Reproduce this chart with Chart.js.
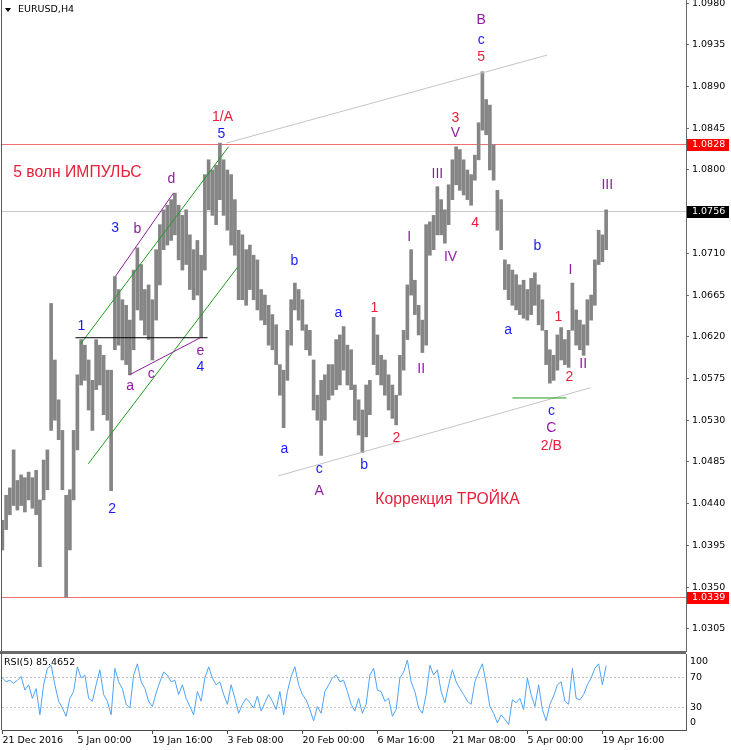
<!DOCTYPE html>
<html>
<head>
<meta charset="utf-8">
<script src="https://cdn.jsdelivr.net/npm/chart.js@4.4.1/dist/chart.umd.min.js"></script>
<style>
html, body { margin: 0; padding: 0; background: #fff; }
#wrap { position: relative; width: 731px; height: 750px; overflow: hidden; }
#main { position: absolute; left: 0; top: 0; }
#rsi { position: absolute; left: 0; top: 652px; }
</style>
</head>
<body>
<div id="wrap">
  <canvas id="main" width="731" height="652"></canvas>
  <canvas id="rsi" width="731" height="98"></canvas>
</div>
<script>
// EURUSD H4 (one entry every ~4 bars)
const highs = [
  1.0422,1.0449,1.0457,1.0498,1.0465,1.0471,1.0468,1.0474,1.0468,1.0476,
  1.0444,1.0487,1.0498,1.0656,1.0595,1.0552,1.0519,1.0449,1.0455,1.0519,
  1.0579,1.0617,1.0611,1.0595,1.0573,1.0617,1.0611,1.0600,1.0584,1.0584,
  1.0685,1.0671,1.0660,1.0654,1.0638,1.0692,1.0716,1.0698,1.0671,1.0676,
  1.0660,1.0714,1.0741,1.0757,1.0762,1.0768,1.0775,1.0762,1.0751,1.0757,
  1.0730,1.0714,1.0724,1.0708,1.0795,1.0811,1.0800,1.0805,1.0829,1.0811,
  1.0800,1.0795,1.0768,1.0735,1.0730,1.0714,1.0719,1.0708,1.0703,1.0671,
  1.0665,1.0654,1.0644,1.0633,1.0590,1.0584,1.0627,1.0660,1.0678,1.0671,
  1.0660,1.0633,1.0627,1.0595,1.0557,1.0573,1.0579,1.0590,1.0590,1.0617,
  1.0622,1.0631,1.0611,1.0606,1.0568,1.0552,1.0541,1.0568,1.0573,1.0641,
  1.0622,1.0600,1.0595,1.0579,1.0568,1.0557,1.0600,1.0627,1.0676,1.0714,
  1.0681,1.0654,1.0638,1.0741,1.0744,1.0751,1.0782,1.0768,1.0757,1.0784,
  1.0811,1.0825,1.0822,1.0811,1.0800,1.0795,1.0816,1.0851,1.0906,1.0876,
  1.0870,1.0827,1.0778,1.0768,1.0703,1.0698,1.0692,1.0687,1.0676,1.0681,
  1.0671,1.0683,1.0689,1.0676,1.0660,1.0627,1.0606,1.0600,1.0622,1.0630,
  1.0617,1.0627,1.0678,1.0649,1.0638,1.0633,1.0660,1.0665,1.0703,1.0735,
  1.0730,1.0757
];
const lows = [
  1.0390,1.0412,1.0428,1.0438,1.0433,1.0438,1.0431,1.0444,1.0435,1.0428,
  1.0372,1.0444,1.0455,1.0519,1.0530,1.0509,1.0455,1.0339,1.0390,1.0444,
  1.0498,1.0568,1.0573,1.0541,1.0519,1.0563,1.0568,1.0536,1.0530,1.0454,
  1.0606,1.0611,1.0595,1.0590,1.0579,1.0606,1.0649,1.0638,1.0622,1.0617,
  1.0595,1.0638,1.0676,1.0714,1.0719,1.0724,1.0730,1.0703,1.0692,1.0698,
  1.0671,1.0660,1.0665,1.0619,1.0692,1.0757,1.0751,1.0741,1.0768,1.0751,
  1.0735,1.0719,1.0708,1.0660,1.0660,1.0654,1.0671,1.0660,1.0649,1.0638,
  1.0633,1.0611,1.0606,1.0590,1.0557,1.0522,1.0573,1.0611,1.0649,1.0638,
  1.0627,1.0606,1.0600,1.0541,1.0530,1.0492,1.0530,1.0552,1.0557,1.0563,
  1.0568,1.0584,1.0568,1.0563,1.0530,1.0514,1.0495,1.0512,1.0536,1.0590,
  1.0579,1.0568,1.0557,1.0541,1.0532,1.0525,1.0557,1.0584,1.0617,1.0665,
  1.0644,1.0622,1.0603,1.0611,1.0708,1.0714,1.0730,1.0730,1.0721,1.0741,
  1.0768,1.0784,1.0778,1.0773,1.0768,1.0762,1.0789,1.0811,1.0843,1.0838,
  1.0800,1.0789,1.0735,1.0714,1.0671,1.0660,1.0654,1.0649,1.0644,1.0640,
  1.0638,1.0644,1.0654,1.0633,1.0627,1.0590,1.0570,1.0573,1.0584,1.0595,
  1.0590,1.0587,1.0627,1.0611,1.0606,1.0600,1.0611,1.0638,1.0654,1.0698,
  1.0701,1.0714
];
const rsi5 = [
  69,64,66,62,66,71,53,60,42,55,
  20,60,82,86,60,38,29,18,42,51,
  84,69,73,42,38,60,80,47,38,20,
  82,64,55,34,29,73,88,64,55,38,
  31,49,64,77,73,64,66,47,60,42,
  31,20,51,38,69,84,69,60,64,47,
  34,60,42,22,34,42,36,29,45,25,
  36,47,38,27,51,20,51,71,84,60,
  47,40,27,12,31,22,51,60,69,73,
  64,66,51,34,25,42,22,34,73,82,
  53,51,38,42,18,27,69,77,93,64,
  51,29,22,47,86,73,80,51,36,60,
  80,64,55,47,38,34,64,77,88,62,
  31,22,9,20,14,7,40,36,42,27,
  69,47,31,60,27,12,34,45,60,64,
  38,34,82,42,40,47,60,69,82,88,
  60,85.4652
];
const timeTickIdx = [0, 20, 40, 60, 80, 100, 120, 140, 160];
const timeLabels = ['21 Dec 2016', '5 Jan 00:00', '19 Jan 16:00', '3 Feb 08:00', '20 Feb 00:00',
  '6 Mar 16:00', '21 Mar 08:00', '5 Apr 00:00', '19 Apr 16:00'];
const priceTicks = [1.0305, 1.0350, 1.0395, 1.0440, 1.0485, 1.0530, 1.0575, 1.0620,
  1.0665, 1.0710, 1.0755, 1.0800, 1.0845, 1.0890, 1.0935, 1.0980];
const rsiTicks = [100, 70, 30, 0];
const rsiLevels = [70, 30];

// price levels with boxes on the axis
const priceLevels = [
  { v: 1.0828, line: '#ef7070', box: '#ff0000' },
  { v: 1.0756, line: '#c8c8c8', box: '#000000' },
  { v: 1.0339, line: '#ef7070', box: '#ff0000' }
];

// drawn objects: [bar1, price1, bar2, price2, colour]
const trendLines = [
  [59.7, 1.0829, 145.3, 1.0924, '#c4c4c4'],
  [73.6, 1.0470, 156.8, 1.0565, '#c4c4c4'],
  [20.8, 1.0612, 60.3, 1.0825, '#1f9a1f'],
  [22.9, 1.0483, 62.7, 1.0695, '#1f9a1f'],
  [19.5, 1.0619, 54.7, 1.0619, '#000000'],
  [30.1, 1.0685, 45.6, 1.0775, '#8e1e9e'],
  [33.9, 1.0579, 52.8, 1.0619, '#8e1e9e'],
  [136.0, 1.0554, 150.4, 1.0554, '#1f9a1f']
];

const RED = '#e8203a', BLUE = '#1a1aff', PURPLE = '#8e1e9e';
const waveMarks = [
  ['1/A', 58.7, 1.0857, RED], ['5', 58.4, 1.0839, BLUE],
  ['d', 45.1, 1.0790, PURPLE], ['b', 36.0, 1.0736, PURPLE], ['3', 30.1, 1.0737, BLUE],
  ['1', 21.1, 1.0632, BLUE], ['a', 34.1, 1.0567, PURPLE], ['c', 39.7, 1.0580, PURPLE],
  ['e', 52.8, 1.0604, PURPLE], ['4', 52.8, 1.0587, BLUE], ['2', 29.3, 1.0434, BLUE],
  ['b', 77.9, 1.0702, BLUE], ['a', 89.6, 1.0646, BLUE], ['1', 99.2, 1.0651, RED],
  ['a', 75.2, 1.0499, BLUE], ['c', 84.5, 1.0477, BLUE], ['b', 96.5, 1.0482, BLUE],
  ['A', 84.5, 1.0453, PURPLE], ['2', 105.1, 1.0511, RED],
  ['I', 108.5, 1.0727, PURPLE], ['II', 111.7, 1.0585, PURPLE], ['III', 116.0, 1.0796, PURPLE],
  ['IV', 119.5, 1.0706, PURPLE], ['3', 120.8, 1.0856, RED], ['V', 120.8, 1.0840, PURPLE],
  ['4', 126.1, 1.0743, RED], ['B', 127.7, 1.0962, PURPLE], ['c', 127.7, 1.0940, BLUE],
  ['5', 127.7, 1.0922, RED], ['b', 142.7, 1.0718, BLUE], ['a', 134.9, 1.0627, BLUE],
  ['I', 151.5, 1.0692, PURPLE], ['1', 148.3, 1.0641, RED], ['2', 151.2, 1.0576, RED],
  ['II', 154.9, 1.0591, PURPLE], ['c', 146.4, 1.0540, BLUE], ['C', 146.4, 1.0521, PURPLE],
  ['2/B', 146.4, 1.0502, RED], ['III', 161.3, 1.0784, PURPLE]
];
const captions = [
  ['5 волн ИМПУЛЬС', 2.9, 1.0797, 'left'],
  ['Коррекция ТРОЙКА', 118.7, 1.0444, 'center']
];

const X_MIN = -0.1, X_MAX = 182.3;
const axisFont = { family: 'DejaVu Sans', size: 9.5 };

const mainDecor = {
  id: 'mainDecor',
  beforeDatasetsDraw(chart) {
    const { ctx, chartArea: a, scales: { y } } = chart;
    ctx.save();
    ctx.lineWidth = 1;
    priceLevels.forEach(l => {
      const py = Math.round(y.getPixelForValue(l.v)) + 0.5;
      ctx.strokeStyle = l.line;
      ctx.beginPath(); ctx.moveTo(a.left, py); ctx.lineTo(a.right, py); ctx.stroke();
    });
    ctx.restore();
  },
  afterDatasetsDraw(chart) {
    const { ctx, scales: { x, y } } = chart;
    ctx.save();
    ctx.lineWidth = 1;
    trendLines.forEach(t => {
      ctx.strokeStyle = t[4];
      ctx.beginPath();
      ctx.moveTo(x.getPixelForValue(t[0]), y.getPixelForValue(t[1]));
      ctx.lineTo(x.getPixelForValue(t[2]), y.getPixelForValue(t[3]));
      ctx.stroke();
    });
    ctx.textBaseline = 'middle';
    ctx.textAlign = 'center';
    ctx.font = '14px "Liberation Sans"';
    waveMarks.forEach(m => {
      ctx.fillStyle = m[3];
      ctx.fillText(m[0], x.getPixelForValue(m[1]), y.getPixelForValue(m[2]));
    });
    ctx.font = '15.7px "Liberation Sans"';
    ctx.fillStyle = RED;
    captions.forEach(c => {
      ctx.textAlign = c[3];
      ctx.fillText(c[0], x.getPixelForValue(c[1]), y.getPixelForValue(c[2]));
    });
    ctx.restore();
  },
  afterDraw(chart) {
    const { ctx, chartArea: a, scales: { y } } = chart;
    ctx.save();
    // frame
    ctx.fillStyle = '#5a5a5a';
    ctx.fillRect(1, 0, 1, a.bottom);
    ctx.fillStyle = '#6a6a6a';
    ctx.fillRect(0, a.bottom, a.right, 1);
    // level boxes on the price axis
    ctx.font = '9.5px "DejaVu Sans"';
    ctx.textAlign = 'left';
    ctx.textBaseline = 'middle';
    priceLevels.forEach(l => {
      const py = Math.round(y.getPixelForValue(l.v));
      ctx.fillStyle = l.box;
      ctx.fillRect(a.right + 1, py - 5, 42, 12);
      ctx.fillStyle = '#fff';
      ctx.fillText(l.v.toFixed(4), a.right + 6, py + 1);
    });
    // symbol title
    ctx.fillStyle = '#000';
    ctx.beginPath(); ctx.moveTo(5, 8); ctx.lineTo(11, 8); ctx.lineTo(8, 12); ctx.closePath(); ctx.fill();
    ctx.fillText('EURUSD,H4', 18, 10);
    ctx.restore();
  }
};

const mainChart = new Chart(document.getElementById('main'), {
  type: 'bar',
  data: {
    datasets: [{
      data: highs.map((h, i) => ({ x: i, y: [lows[i], h] })),
      backgroundColor: '#858585',
      borderWidth: 0,
      barThickness: 3,
      grouped: false
    }]
  },
  options: {
    responsive: false,
    animation: false,
    devicePixelRatio: 1,
    layout: { padding: { left: 2, top: 0, right: 0, bottom: 1 } },
    plugins: { legend: { display: false }, tooltip: { enabled: false } },
    scales: {
      x: { type: 'linear', offset: false, min: X_MIN, max: X_MAX, display: false },
      y: {
        position: 'right',
        min: 1.0281,
        max: 1.09834,
        afterBuildTicks: s => { s.ticks = priceTicks.map(v => ({ value: v })); },
        afterFit: s => { s.width = 45; s.paddingTop = 0; s.paddingBottom = 0; },
        grid: { drawOnChartArea: false, tickLength: 3, color: '#6a6a6a' },
        border: { color: '#6a6a6a' },
        ticks: { padding: 3, color: '#000', font: axisFont, autoSkip: false,
          callback: v => v.toFixed(4) }
      }
    }
  },
  plugins: [mainDecor]
});

const rsiDecor = {
  id: 'rsiDecor',
  beforeDatasetsDraw(chart) {
    const { ctx, chartArea: a, scales: { y } } = chart;
    ctx.save();
    ctx.strokeStyle = '#c4c4c4';
    ctx.lineWidth = 1;
    ctx.setLineDash([2, 2]);
    rsiLevels.forEach(v => {
      const py = Math.round(y.getPixelForValue(v)) + 0.5;
      ctx.beginPath(); ctx.moveTo(a.left, py); ctx.lineTo(a.right, py); ctx.stroke();
    });
    ctx.restore();
  },
  afterDraw(chart) {
    const { ctx, chartArea: a, scales: { y } } = chart;
    ctx.save();
    ctx.fillStyle = '#6a6a6a';
    ctx.fillRect(0, 0, a.right, 2);
    ctx.fillStyle = '#5a5a5a';
    ctx.fillRect(1, 0, 1, a.bottom);
    ctx.font = '9.5px "DejaVu Sans"';
    ctx.textBaseline = 'middle';
    ctx.textAlign = 'left';
    ctx.fillStyle = '#000';
    ctx.fillText('RSI(5) ' + rsi5[rsi5.length - 1].toFixed(4), 4, 11);
    rsiTicks.forEach(v => {
      const py = Math.min(Math.max(y.getPixelForValue(v), a.top + 8), a.bottom - 7);
      ctx.fillText(String(v), a.right + 4, py);
    });
    ctx.restore();
  }
};

const rsiChart = new Chart(document.getElementById('rsi'), {
  type: 'line',
  data: {
    datasets: [{
      data: rsi5.map((v, i) => ({ x: i, y: v })),
      borderColor: '#4fa3f7',
      borderWidth: 1,
      pointRadius: 0,
      tension: 0
    }]
  },
  options: {
    responsive: false,
    animation: false,
    devicePixelRatio: 1,
    layout: { padding: { left: 2, top: 2, right: 0, bottom: 0 } },
    plugins: { legend: { display: false }, tooltip: { enabled: false } },
    scales: {
      x: {
        type: 'linear',
        offset: false,
        min: X_MIN,
        max: X_MAX,
        afterBuildTicks: s => { s.ticks = timeTickIdx.map(v => ({ value: v })); },
        afterFit: s => { s.height = 20; s.paddingLeft = 0; s.paddingRight = 0; },
        grid: { drawOnChartArea: false, tickLength: 4, color: '#4a4a4a' },
        border: { color: '#4a4a4a' },
        ticks: { align: 'start', padding: 1, maxRotation: 0, minRotation: 0, autoSkip: false,
          color: '#000', font: axisFont,
          callback: (v, i) => timeLabels[i] }
      },
      y: {
        position: 'right',
        min: -0.3,
        max: 101.1,
        afterFit: s => { s.width = 45; s.paddingTop = 0; s.paddingBottom = 0; },
        grid: { display: false },
        border: { color: '#5a5a5a' },
        ticks: { display: false }
      }
    }
  },
  plugins: [rsiDecor]
});
</script>
</body>
</html>
